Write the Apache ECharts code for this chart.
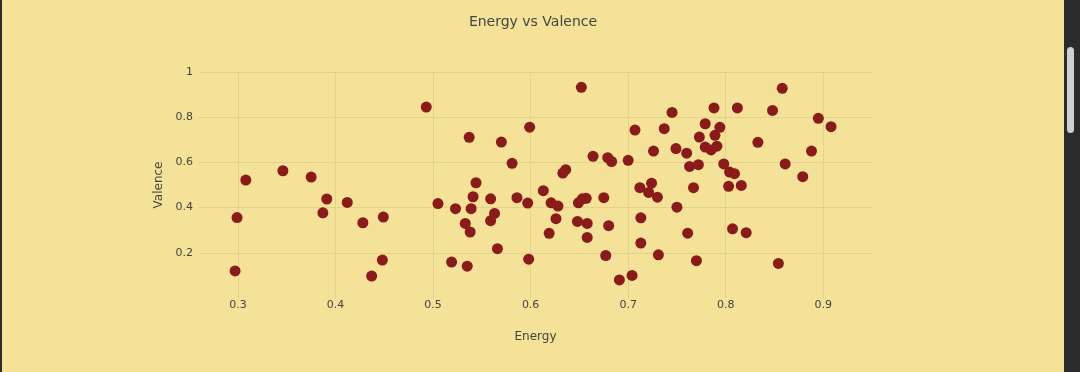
<!DOCTYPE html>
<html>
<head>
<meta charset="utf-8">
<script src="https://cdn.jsdelivr.net/npm/echarts@6/dist/echarts.min.js"></script>
<style>
  html, body { margin: 0; padding: 0; background: #F3E297; overflow: hidden; }
  #chart { position: absolute; left: 0; top: 0; width: 1080px; height: 372px; }
  #lb { position: absolute; left: 0; top: 0; width: 2px; height: 372px; background: #2b2b2b; }
  #sb { position: absolute; left: 1064px; top: 0; width: 16px; height: 372px; background: #2b2b2b; }
  #thumb { position: absolute; left: 3px; top: 47px; width: 7px; height: 86px; border-radius: 4px; background: #cfcfcf; }
</style>
</head>
<body>
<div id="chart"></div>
<div id="lb"></div>
<div id="sb"><div id="thumb"></div></div>
<script>
const titleText = 'Energy vs Valence';
const xName = 'Energy';
const yName = 'Valence';

const energy = [
  0.297, 0.299, 0.308, 0.346, 0.375, 0.387, 0.391, 0.412, 0.428, 0.437,
  0.448, 0.449, 0.493, 0.505, 0.519, 0.523, 0.533, 0.535, 0.537, 0.538,
  0.539, 0.541, 0.544, 0.559, 0.559, 0.563, 0.566, 0.570, 0.581, 0.586,
  0.597, 0.598, 0.599, 0.613, 0.619, 0.621, 0.626, 0.628, 0.633, 0.636,
  0.648, 0.649, 0.652, 0.653, 0.657, 0.658, 0.658, 0.664, 0.675, 0.677,
  0.679, 0.680, 0.683, 0.691, 0.700, 0.704, 0.707, 0.712, 0.713, 0.713,
  0.721, 0.724, 0.726, 0.730, 0.731, 0.737, 0.745, 0.749, 0.750, 0.760,
  0.761, 0.763, 0.767, 0.770, 0.772, 0.773, 0.779, 0.779, 0.785, 0.788,
  0.789, 0.791, 0.794, 0.798, 0.803, 0.804, 0.807, 0.809, 0.812, 0.816,
  0.821, 0.833, 0.848, 0.854, 0.858, 0.861, 0.879, 0.888, 0.895, 0.908
];
const valence = [
  0.120, 0.356, 0.522, 0.563, 0.535, 0.377, 0.438, 0.423, 0.333, 0.097,
  0.168, 0.358, 0.845, 0.418, 0.159, 0.395, 0.330, 0.141, 0.711, 0.292,
  0.395, 0.448, 0.510, 0.439, 0.342, 0.374, 0.218, 0.690, 0.596, 0.444,
  0.420, 0.172, 0.756, 0.475, 0.286, 0.421, 0.351, 0.407, 0.553, 0.568,
  0.339, 0.421, 0.932, 0.439, 0.441, 0.330, 0.268, 0.627, 0.444, 0.188,
  0.621, 0.320, 0.604, 0.080, 0.609, 0.100, 0.743, 0.488, 0.355, 0.243,
  0.467, 0.508, 0.650, 0.446, 0.191, 0.749, 0.821, 0.661, 0.402, 0.641,
  0.287, 0.582, 0.488, 0.165, 0.590, 0.712, 0.771, 0.668, 0.655, 0.841,
  0.720, 0.672, 0.755, 0.593, 0.494, 0.557, 0.306, 0.550, 0.841, 0.498,
  0.289, 0.689, 0.830, 0.153, 0.928, 0.593, 0.537, 0.650, 0.795, 0.758
];

const points = energy.map((e, i) => [e, valence[i]]);

const bg = '#F3E297';
const gridC = '#E3D28C';
const tc = 'rgba(0,0,0,0)';
const textC = '#444';
const fam = 'DejaVu Sans, Verdana, sans-serif';

const chart = echarts.init(document.getElementById('chart'), null, { renderer: 'canvas' });
chart.setOption({
  backgroundColor: bg,
  animation: false,
  title: {
    text: titleText,
    left: 533, top: 15, padding: 0, textAlign: 'center',
    textStyle: { fontFamily: fam, fontSize: 14, fontWeight: 'normal', color: textC }
  },
  grid: { left: 199, top: 72, width: 673, height: 226, containLabel: false },
  xAxis: {
    type: 'value', min: 0.26, max: 0.95, interval: 0.02,
    name: xName, nameLocation: 'middle', nameGap: 33,
    nameTextStyle: { fontFamily: fam, fontSize: 12, color: textC },
    axisLine: { show: false }, axisTick: { show: false },
    axisLabel: {
      margin: 2, fontFamily: fam, fontSize: 11, color: textC,
      formatter: v => (Math.abs(v * 10 - Math.round(v * 10)) < 1e-6 ? v.toFixed(1) : '')
    },
    splitLine: { show: true, lineStyle: { color: [tc, tc, gridC, tc, tc], width: 1 } }
  },
  yAxis: {
    type: 'value', min: 0, max: 1, interval: 0.2,
    name: yName, nameLocation: 'middle', nameGap: 34,
    nameTextStyle: { fontFamily: fam, fontSize: 12, color: textC },
    axisLine: { show: false }, axisTick: { show: false },
    axisLabel: {
      margin: 6, fontFamily: fam, fontSize: 11, color: textC,
      formatter: v => (v === 0 ? '' : String(Math.round(v * 10) / 10))
    },
    splitLine: { show: true, lineStyle: { color: [tc, gridC, gridC, gridC, gridC, gridC], width: 1 } }
  },
  series: [{
    type: 'scatter',
    data: points,
    symbol: 'circle',
    symbolSize: 11,
    itemStyle: { color: '#8B1A1A', opacity: 1 }
  }]
});
</script>
</body>
</html>
